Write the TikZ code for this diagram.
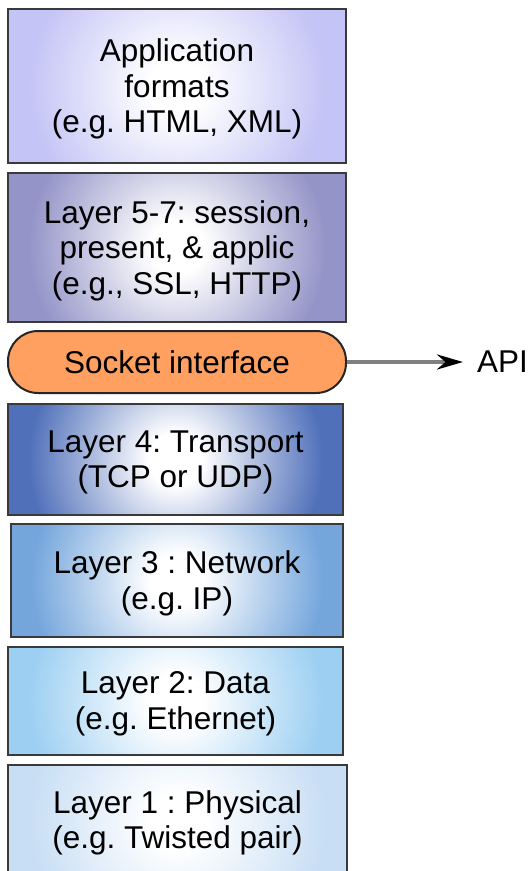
\documentclass[tikz,border=0pt]{standalone}
\usepackage{fontspec}
\setmainfont{Liberation Sans}
\usetikzlibrary{arrows.meta}
\definecolor{cApp}{HTML}{C4C4F6}
\definecolor{cSes}{HTML}{9494C8}
\definecolor{cTra}{HTML}{5070BA}
\definecolor{cNet}{HTML}{74A6DC}
\definecolor{cDat}{HTML}{9CCFF2}
\definecolor{cPhy}{HTML}{C8DEF4}
\definecolor{cSock}{HTML}{FFA060}
\definecolor{cBorder}{HTML}{3A3A3A}
\colorlet{glowc}{cApp}
\pgfdeclareradialshading[glowc]{glow}{\pgfpointorigin}{%
  color(0bp)=(white); color(4bp)=(white);
  color(12bp)=(glowc!45!white); color(22bp)=(glowc); color(50bp)=(glowc)}
\tikzset{
  txt/.style={font=\fontsize{31.5}{35.5}\selectfont\frenchspacing},
  layerbox/.style 2 args={draw=cBorder, line width=2pt, fill=#1,
    minimum width=#2, inner sep=0pt,
    path picture={\colorlet{glowc}{#1}\shade[shading=glow]
      (path picture bounding box.center) circle (165pt);}},
  boxtext/.style={txt, align=center, inner sep=0pt, yshift=-3pt},
  sockbox/.style={txt, draw=black!85, line width=2pt, fill=cSock,
    rounded corners=30pt, inner sep=0pt},
  apilabel/.style={txt, inner sep=0pt},
  apiarrow/.style={line width=4pt, draw=black!50,
    -{Stealth[length=26pt,width=15pt,color=black]}}
}
\begin{document}
\begin{tikzpicture}[x=1pt,y=-1pt]
\useasboundingbox (0,0) rectangle (528,871);
\node[layerbox={cApp}{338pt}, minimum height=154pt,
  label={[boxtext]center:{Application\\formats\\(e.g. HTML, XML)}}] (app) at (177,86) {};
\node[layerbox={cSes}{338pt}, minimum height=149pt,
  label={[boxtext]center:{Layer 5-7: session,\\present, \& applic\\(e.g., SSL, HTTP)}}] (ses) at (177,247.5) {};
\node[sockbox, minimum width=338pt, minimum height=62pt] (sock) at (177,362)
  {Socket interface};
\node[layerbox={cTra}{335pt}, minimum height=111pt,
  label={[boxtext]center:{Layer 4: Transport\\(TCP or UDP)}}] (tra) at (175.5,459.5) {};
\node[layerbox={cNet}{332pt}, minimum height=113pt,
  label={[boxtext]center:{Layer 3 : Network\\(e.g. IP)}}] (net) at (177,580.5) {};
\node[layerbox={cDat}{335pt}, minimum height=108pt,
  label={[boxtext]center:{Layer 2: Data\\(e.g. Ethernet)}}] (dat) at (175.5,701) {};
\node[layerbox={cPhy}{339pt}, minimum height=112pt,
  label={[boxtext, yshift=1pt]center:{Layer 1 : Physical\\(e.g. Twisted pair)}}] (phy) at (177.5,821) {};
\node[apilabel, anchor=west] (api) at (477,362) {API};
\draw[apiarrow] (sock.east) -- ([xshift=-14pt]api.west);
\end{tikzpicture}
\end{document}
